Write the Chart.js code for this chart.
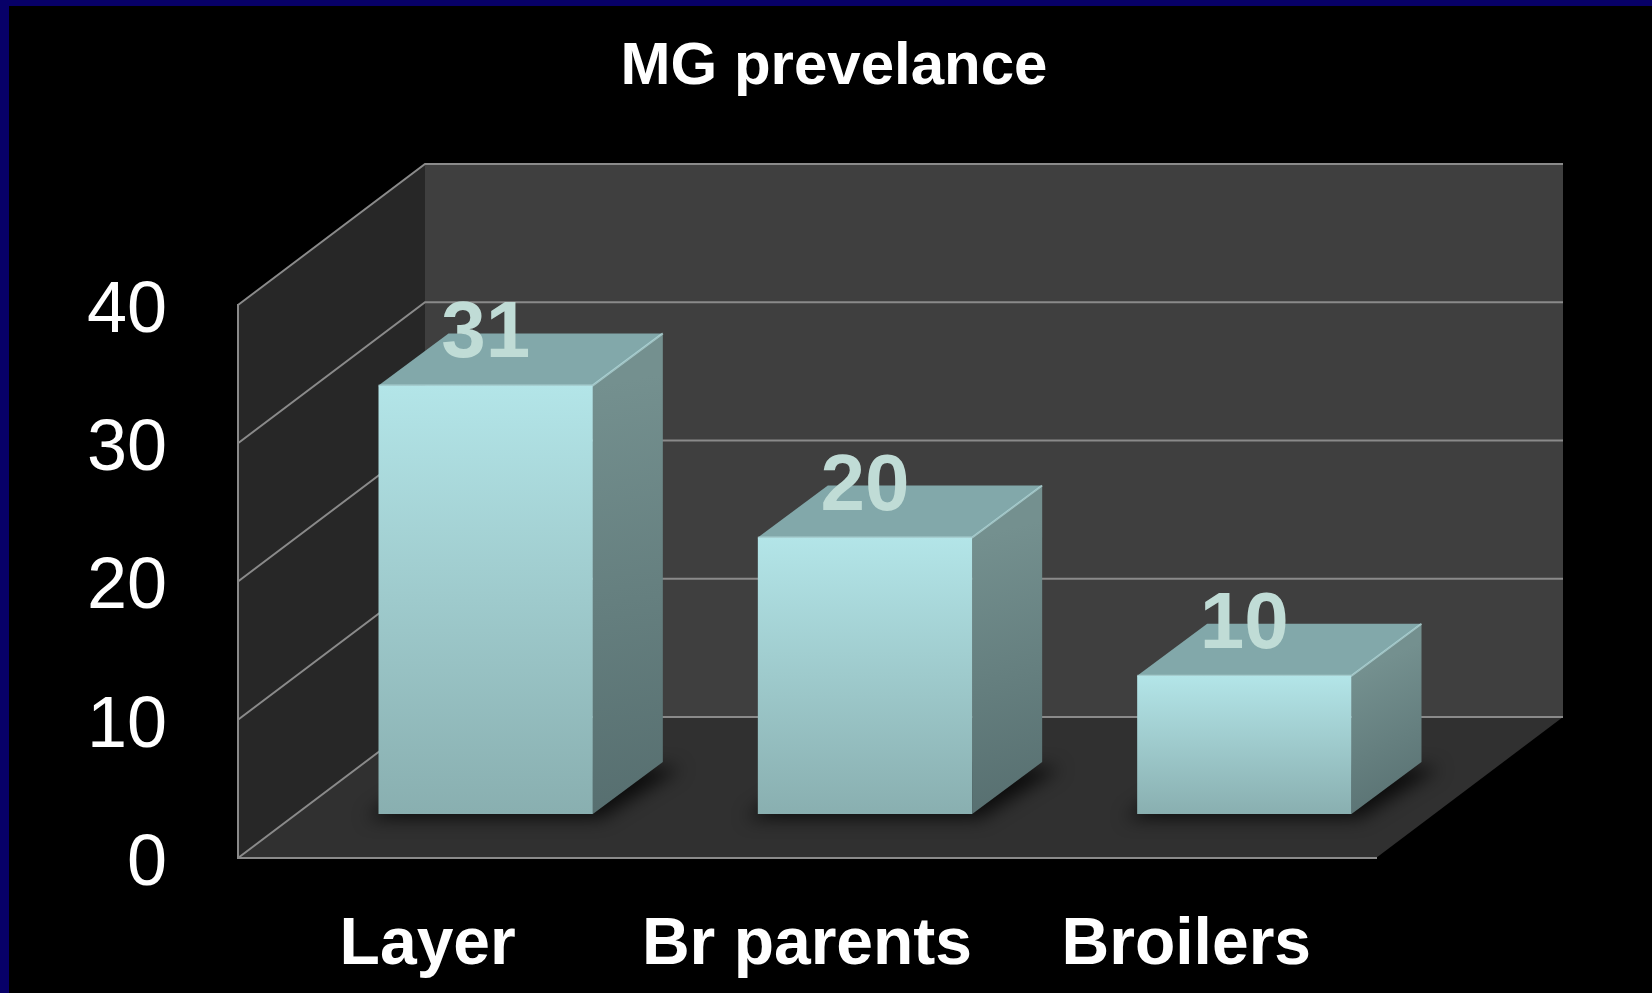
<!DOCTYPE html>
<html>
<head>
<meta charset="utf-8">
<title>MG prevelance</title>
<script src="https://cdn.jsdelivr.net/npm/chart.js@4.4.0/dist/chart.umd.min.js"></script>
<style>
  html, body { margin: 0; padding: 0; background: #000; }
  #wrap { position: relative; width: 1652px; height: 993px; overflow: hidden; }
  #frameLeft { position: absolute; left: 0; top: 0; width: 9px; height: 993px; background: #070068; }
  #frameTop { position: absolute; left: 0; top: 0; width: 1652px; height: 6px; background: #070068; }
</style>
</head>
<body>
<div id="wrap">
  <canvas id="myChart"></canvas>
  <div id="frameLeft"></div>
  <div id="frameTop"></div>
</div>
<script>
var categories = ['Layer', 'Br parents', 'Broilers'];
var prevalence = [31, 20, 10];
var yTicks = [0, 10, 20, 30, 40];
var chartTitle = 'MG prevelance';

// fake 3d: offsets from the front plane
var wallDX = 187, wallDY = -141;   // back wall
var barDX = 58, barDY = -44;       // front faces of the bars
var depthDX = 70, depthDY = -52;   // depth of one bar
var gridColor = '#8a8a8a';

function poly(ctx, pts, fill) {
    ctx.beginPath();
    ctx.moveTo(pts[0][0], pts[0][1]);
    for (var i = 1; i < pts.length; i++) ctx.lineTo(pts[i][0], pts[i][1]);
    ctx.closePath();
    ctx.fillStyle = fill;
    ctx.fill();
}

var walls = {
    id: 'walls',
    beforeDraw(chart) {
        var ctx = chart.ctx, a = chart.chartArea, y = chart.scales.y;
        var l = a.left, r = a.right, t = a.top, b = a.bottom;
        ctx.save();
        poly(ctx, [[l, t], [l + wallDX, t + wallDY], [l + wallDX, b + wallDY], [l, b]], '#272727');
        poly(ctx, [[l + wallDX, t + wallDY], [r + wallDX, t + wallDY], [r + wallDX, b + wallDY], [l + wallDX, b + wallDY]], '#3f3f3f');
        poly(ctx, [[l, b], [r, b], [r + wallDX, b + wallDY], [l + wallDX, b + wallDY]], '#303030');
        ctx.strokeStyle = gridColor;
        ctx.lineWidth = 2;
        yTicks.forEach(v => {
            var py = y.getPixelForValue(v);
            ctx.beginPath();
            ctx.moveTo(l, py);
            ctx.lineTo(l + wallDX, py + wallDY);
            ctx.lineTo(r + wallDX, py + wallDY);
            ctx.stroke();
        });
        ctx.restore();
    }
};

var bars3d = {
    id: 'bars3d',
    beforeDatasetsDraw(chart) {
        var ctx = chart.ctx;
        ctx.save();
        ctx.translate(barDX, barDY);
        chart.getDatasetMeta(0).data.forEach(bar => {
            var x0 = bar.x - bar.width / 2, x1 = bar.x + bar.width / 2;
            var yt = bar.y, yb = bar.base;

            // soft shadow on the floor
            ctx.save();
            ctx.filter = 'blur(9px)';
            poly(ctx, [[x0 - 12, yb + 4], [x1 + 8, yb + 4], [x1 + depthDX + 18, yb + depthDY + 6],
                       [x0 + depthDX, yb + depthDY]], 'rgba(0,0,0,0.75)');
            ctx.restore();

            // right side
            var gs = ctx.createLinearGradient(x1, yt, x1 + depthDX, yb);
            gs.addColorStop(0, '#74908f');
            gs.addColorStop(1, '#566e6f');
            poly(ctx, [[x1, yt], [x1 + depthDX, yt + depthDY], [x1 + depthDX, yb + depthDY], [x1, yb]], gs);

            // top
            poly(ctx, [[x0, yt], [x1, yt], [x1 + depthDX, yt + depthDY], [x0 + depthDX, yt + depthDY]], '#82a8aa');

            // light bevel on the top edges
            ctx.strokeStyle = 'rgba(200,240,242,0.55)';
            ctx.lineWidth = 2;
            ctx.beginPath();
            ctx.moveTo(x0, yt);
            ctx.lineTo(x1, yt);
            ctx.lineTo(x1 + depthDX, yt + depthDY);
            ctx.stroke();
        });
    },
    afterDatasetsDraw(chart) {
        var ctx = chart.ctx;
        ctx.font = 'bold 80px "Liberation Sans", Arial, sans-serif';
        ctx.fillStyle = '#c0dcd6';
        ctx.textAlign = 'center';
        ctx.textBaseline = 'alphabetic';
        chart.getDatasetMeta(0).data.forEach((bar, i) => {
            ctx.fillText(String(prevalence[i]), bar.x, bar.y - 28);
        });
        ctx.restore();
    }
};

function frontFace(c) {
    var chart = c.chart;
    if (!chart.chartArea || c.type !== 'data') return '#a8d8dc';
    var y = chart.scales.y;
    var g = chart.ctx.createLinearGradient(0, y.getPixelForValue(c.raw), 0, y.getPixelForValue(0));
    g.addColorStop(0, '#b3e5e8');
    g.addColorStop(1, '#89afb0');
    return g;
}

Chart.defaults.font.family = '"Liberation Sans", Arial, sans-serif';
Chart.defaults.color = '#ffffff';

const data = {
    labels: categories,
    datasets: [{
        label: 'MG',
        data: prevalence,
        backgroundColor: frontFace,
        borderWidth: 0,
        barPercentage: 0.565,
        categoryPercentage: 1,
        clip: false
    }]
};

const config = {
    type: 'bar',
    data: data,
    options: {
        responsive: true,
        maintainAspectRatio: false,
        animation: false,
        layout: { padding: { left: 16, right: 0, top: 0, bottom: 0 } },
        plugins: {
            legend: { display: false },
            tooltip: { enabled: false },
            title: {
                display: true,
                text: chartTitle,
                color: '#ffffff',
                font: { size: 60, weight: 'bold' },
                padding: { top: 31, bottom: 202 }
            }
        },
        scales: {
            x: {
                grid: { display: false },
                border: { display: true, color: gridColor, width: 2 },
                ticks: { font: { size: 66, weight: 'bold' }, color: '#ffffff', padding: 40, maxRotation: 0 },
                afterFit: s => { s.height = 135; }
            },
            y: {
                min: 0,
                max: 40,
                grid: { display: false },
                border: { display: true, color: gridColor, width: 2 },
                ticks: { stepSize: 10, font: { size: 72 }, color: '#ffffff', padding: 63, labelOffset: 7 },
                afterFit: s => { s.width = 222; }
            },
            yR: {
                type: 'linear',
                position: 'right',
                grid: { display: false },
                border: { display: false },
                ticks: { display: false },
                afterFit: s => { s.width = 276; }
            }
        }
    },
    plugins: [walls, bars3d]
};

var myChart = new Chart(document.getElementById('myChart'), config);
</script>
</body>
</html>
